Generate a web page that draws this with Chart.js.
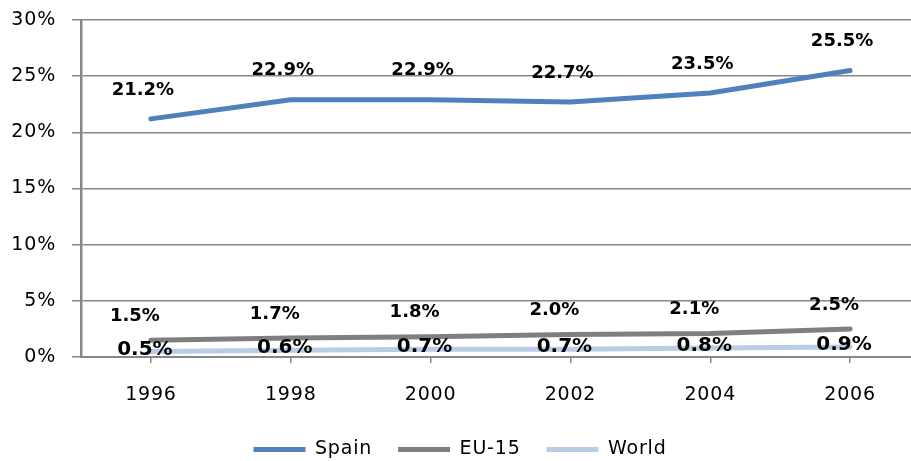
<!DOCTYPE html>
<html>
<head>
<meta charset="utf-8">
<script src="https://cdn.jsdelivr.net/npm/chart.js@4"></script>
<style>
  html, body { margin: 0; padding: 0; background: #fff; overflow: hidden; }
  #wrap { width: 920px; height: 461px; }
</style>
</head>
<body>
<div id="wrap"><canvas id="chart"></canvas></div>
<script>
// values
var years = ['1996', '1998', '2000', '2002', '2004', '2006'];
var spain = [21.2, 22.9, 22.9, 22.7, 23.5, 25.5];
var eu15 = [1.5, 1.7, 1.8, 2.0, 2.1, 2.5];
var world = [0.5, 0.6, 0.7, 0.7, 0.8, 0.9];

var FONT = 'Verdana, "DejaVu Sans", sans-serif';
var GRID = '#878787';

// label look per series: size + nudge from the point
var labelStyle = [
  { size: 18, dx: -8, dy: -29 },
  { size: 18, dx: -16, dy: -24 },
  { size: 20, dx: -6, dy: -2 }
];

// the reference text is a bit wider than Verdana, widen it a touch
var spacing = {
  id: 'spacing',
  beforeLayout: function (chart) { chart.ctx.letterSpacing = '0.8px'; },
  beforeDraw: function (chart) { chart.ctx.letterSpacing = '0.8px'; }
};

var valueLabels = {
  id: 'valueLabels',
  afterDatasetsDraw: function (chart) {
    var ctx = chart.ctx;
    ctx.save();
    ctx.letterSpacing = '0px';
    ctx.fillStyle = '#000';
    ctx.textAlign = 'center';
    ctx.textBaseline = 'middle';
    chart.data.datasets.forEach(function (ds, i) {
      var st = labelStyle[i];
      ctx.font = 'bold ' + st.size + 'px ' + FONT;
      chart.getDatasetMeta(i).data.forEach(function (pt, j) {
        ctx.fillText(ds.data[j].toFixed(1) + '%', pt.x + st.dx, pt.y + st.dy);
      });
    });
    ctx.restore();
  }
};

function line(label, data, color) {
  return {
    label: label,
    data: data,
    borderColor: color,
    backgroundColor: color,
    borderWidth: 5,
    borderCapStyle: 'round',
    borderJoinStyle: 'round',
    pointRadius: 0,
    tension: 0,
    fill: false
  };
}

new Chart(document.getElementById('chart'), {
  type: 'line',
  data: {
    labels: years,
    datasets: [
      line('Spain', spain, '#4F81BD'),
      line('EU-15', eu15, '#7F7F7F'),
      line('World', world, '#B9CDE5')
    ]
  },
  plugins: [spacing, valueLabels],
  options: {
    responsive: true,
    maintainAspectRatio: false,
    animation: false,
    layout: { padding: { top: 20, right: 0, bottom: -8, left: 0 } },
    plugins: {
      tooltip: { enabled: false },
      legend: {
        position: 'bottom',
        labels: {
          usePointStyle: true,
          pointStyle: 'line',
          pointStyleWidth: 52,
          padding: 26,
          color: '#000',
          font: { family: FONT, size: 19 }
        }
      }
    },
    scales: {
      x: {
        offset: true,
        grid: {
          display: true,
          drawOnChartArea: false,
          drawTicks: true,
          tickLength: 6,
          color: GRID,
          lineWidth: 1.5
        },
        border: { display: true, color: GRID, width: 2 },
        ticks: { color: '#000', padding: 21, font: { family: FONT, size: 19 } },
        afterFit: function (s) { s.height = 57; }
      },
      y: {
        min: 0,
        max: 30,
        grid: { color: GRID, lineWidth: 1.5, tickLength: 9 },
        border: { display: true, color: GRID, width: 2.5 },
        ticks: {
          stepSize: 5,
          color: '#000',
          padding: 16,
          font: { family: FONT, size: 19 },
          callback: function (v) { return v + '%'; }
        },
        afterFit: function (s) {
          s.width = 81;
          s.paddingTop = 0;
          s.paddingBottom = 0;
        }
      }
    }
  }
});
</script>
</body>
</html>
